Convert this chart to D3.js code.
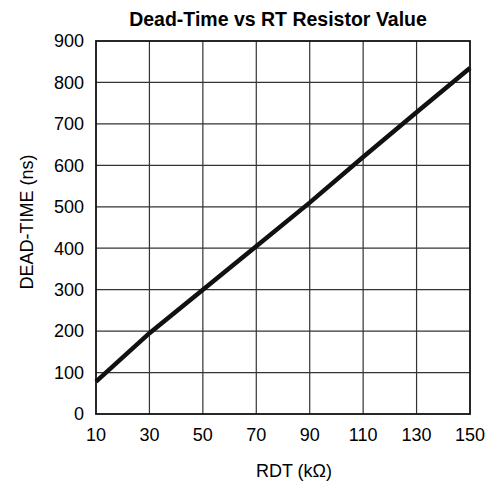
<!DOCTYPE html>
<html>
<head>
<meta charset="utf-8">
<script src="https://cdn.jsdelivr.net/npm/d3@7"></script>
<style>
  body { margin: 0; background: #fff; }
  text { font-family: "Liberation Sans", Arial, sans-serif; fill: #000; }
</style>
</head>
<body>
<svg id="chart" width="486" height="484"></svg>
<script>
var rdt = [10, 30, 50, 70, 90, 110, 130, 150];
var deadTime = [78, 195, 300, 405, 510, 620, 728, 835];
var xTicks = [10, 30, 50, 70, 90, 110, 130, 150];
var yTicks = [0, 100, 200, 300, 400, 500, 600, 700, 800, 900];

(function () {
    var margin = {left: 96, right: 16, top: 41, bottom: 70};
    var width = 486 - margin.left - margin.right,
        height = 484 - margin.top - margin.bottom;

    var svg = d3.select("#chart");
    var g = svg.append("g").attr("transform", "translate(" + margin.left + "," + margin.top + ")");

    var x = d3.scaleLinear().domain([10, 150]).range([0, width]);
    var y = d3.scaleLinear().domain([0, 900]).range([height, 0]);

    // grid
    g.append("g").selectAll("line").data(xTicks.slice(1, -1)).join("line")
        .attr("x1", d => x(d)).attr("x2", d => x(d))
        .attr("y1", 0).attr("y2", height)
        .attr("stroke", "#333").attr("stroke-width", 1.2);
    g.append("g").selectAll("line").data(yTicks.slice(1, -1)).join("line")
        .attr("x1", 0).attr("x2", width)
        .attr("y1", d => y(d)).attr("y2", d => y(d))
        .attr("stroke", "#333").attr("stroke-width", 1.2);

    g.append("rect").attr("width", width).attr("height", height)
        .attr("fill", "none").attr("stroke", "#111").attr("stroke-width", 1.8);

    var line = d3.line().x((d, i) => x(rdt[i])).y(d => y(d));
    g.append("path").datum(deadTime)
        .attr("d", line)
        .attr("fill", "none")
        .attr("stroke", "#111")
        .attr("stroke-width", 4.5);

    // tick labels
    g.append("g").selectAll("text").data(yTicks).join("text")
        .attr("x", -12).attr("y", d => y(d)).attr("dy", "0.35em")
        .attr("text-anchor", "end").attr("font-size", 18)
        .text(d => d);
    g.append("g").selectAll("text").data(xTicks).join("text")
        .attr("x", d => x(d)).attr("y", height + 27)
        .attr("text-anchor", "middle").attr("font-size", 18)
        .text(d => d);

    svg.append("text").attr("x", 278).attr("y", 26)
        .attr("text-anchor", "middle").attr("font-size", 19.5).attr("font-weight", "bold")
        .text("Dead-Time vs RT Resistor Value");

    svg.append("text").attr("x", 294).attr("y", 477)
        .attr("text-anchor", "middle").attr("font-size", 18)
        .text("RDT (kΩ)");

    svg.append("text")
        .attr("transform", "translate(33,222) rotate(-90)")
        .attr("text-anchor", "middle").attr("font-size", 18)
        .text("DEAD-TIME (ns)");
})();
</script>
</body>
</html>
